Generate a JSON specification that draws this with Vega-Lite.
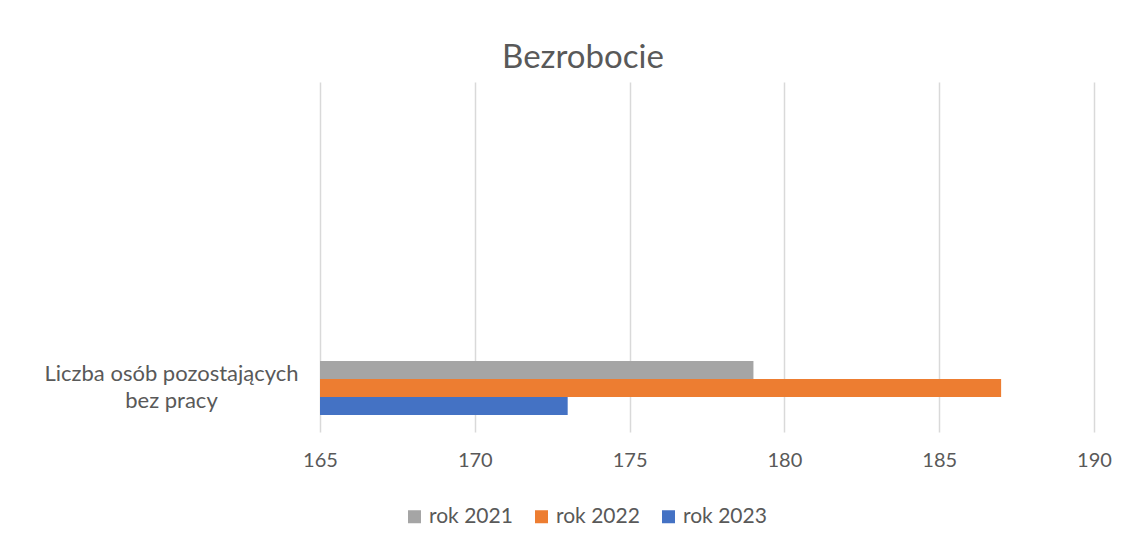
{
  "$schema": "https://vega.github.io/schema/vega-lite/v6.json",
  "width": 774,
  "height": 350,
  "padding": {"left": 0, "top": 42, "right": 30, "bottom": 10},
  "background": "white",
  "title": {
    "text": "Bezrobocie",
    "fontSize": 33,
    "font": "Lato",
    "fontWeight": "normal",
    "color": "#595959",
    "baseline": "alphabetic",
    "offset": -19,
    "frame": "group",
    "anchor": "middle",
    "dx": -124
  },
  "data": {
    "values": [
      {"kategoria": "Liczba osób pozostających bez pracy", "rok": "rok 2021", "wartosc": 179},
      {"kategoria": "Liczba osób pozostających bez pracy", "rok": "rok 2022", "wartosc": 187},
      {"kategoria": "Liczba osób pozostających bez pracy", "rok": "rok 2023", "wartosc": 173}
    ]
  },
  "mark": {"type": "bar"},
  "encoding": {
    "y": {
      "field": "kategoria",
      "type": "nominal",
      "title": null,
      "scale": {"paddingInner": 0.328, "paddingOuter": 1, "align": 1},
      "axis": {
        "domain": false,
        "ticks": false,
        "tickSize": 0,
        "grid": false,
        "labelFont": "Lato",
        "labelFontSize": 22,
        "labelColor": "#595959",
        "labelAlign": "center",
        "labelBaseline": "middle",
        "labelLineHeight": 27,
        "labelOffset": -14,
        "labelPadding": 149,
        "labelLimit": 400,
        "minExtent": 320,
        "maxExtent": 320,
        "labelExpr": "datum.value == 'Liczba osób pozostających bez pracy' ? ['Liczba osób pozostających', 'bez pracy'] : datum.label"
      }
    },
    "yOffset": {
      "field": "rok",
      "type": "nominal",
      "sort": ["rok 2021", "rok 2022", "rok 2023"],
      "scale": {"paddingInner": 0, "paddingOuter": 0.944}
    },
    "x": {
      "field": "wartosc",
      "type": "quantitative",
      "scale": {"domain": [165, 190], "zero": false, "nice": false},
      "axis": {
        "title": null,
        "values": [165, 170, 175, 180, 185, 190],
        "grid": true,
        "gridColor": "#D9D9D9",
        "gridWidth": 1.5,
        "domain": false,
        "ticks": false,
        "tickSize": 0,
        "labelFlush": false,
        "labelFont": "Lato",
        "labelFontSize": 20,
        "labelColor": "#595959",
        "labelPadding": 18
      }
    },
    "x2": {"datum": 165},
    "color": {
      "field": "rok",
      "type": "nominal",
      "scale": {
        "domain": ["rok 2021", "rok 2022", "rok 2023"],
        "range": ["#A5A5A5", "#ED7D31", "#4472C4"]
      },
      "legend": {
        "title": null,
        "orient": "none",
        "legendX": 84,
        "legendY": 424,
        "direction": "horizontal",
        "symbolType": "square",
        "symbolSize": 169,
        "symbolStrokeWidth": 0,
        "labelFont": "Lato",
        "labelFontSize": 21,
        "labelColor": "#595959",
        "labelOffset": 4,
        "columnPadding": 18,
        "padding": 0
      }
    }
  },
  "config": {"view": {"stroke": null}, "font": "Lato"}
}
